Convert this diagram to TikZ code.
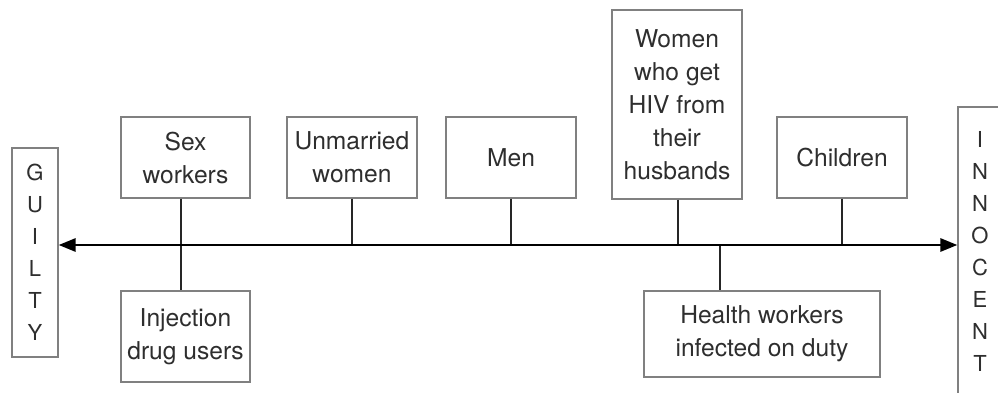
\documentclass[tikz,border=0pt]{standalone}
\usepackage{fontspec}
\setmainfont{TeX Gyre Heros}
\usetikzlibrary{arrows.meta}
\definecolor{boxline}{HTML}{808080}
\definecolor{txt}{HTML}{2E2E2E}
\tikzset{
  catbox/.style={draw=boxline, line width=1.2pt, rectangle, inner sep=0pt,
    align=center, text=txt, font=\fontsize{24.6}{33}\selectfont},
  sidebox/.style={catbox, font=\fontsize{22}{32}\selectfont},
  tick/.style={draw=black!85, line width=1.2pt},
  axisline/.style={draw=black, line width=2.8pt,
    {Triangle[length=17pt,width=13pt]}-{Triangle[length=17pt,width=13pt]}}
}
\begin{document}
\begin{tikzpicture}[x=1pt,y=1pt]
\useasboundingbox (0,0) rectangle (998,392);
\clip (0,0) rectangle (998,392);
% side boxes
\node[sidebox, minimum width=46pt, minimum height=209pt] (guilty) at (35,139.5) {G\\U\\I\\L\\T\\Y};
\node[sidebox, minimum width=44pt, minimum height=288pt] (innocent) at (980,141) {I\\N\\N\\O\\C\\E\\N\\T};
% category boxes
\node[catbox, minimum width=129pt, minimum height=81pt] (sex) at (185.5,234.5) {Sex\\workers};
\node[catbox, minimum width=129pt, minimum height=91pt] (inject) at (185.5,55.5) {Injection\\drug users};
\node[catbox, minimum width=130pt, minimum height=81pt] (unmarried) at (352,234.5) {Unmarried\\women};
\node[catbox, minimum width=130pt, minimum height=81pt] (men) at (511,234.5) {Men};
\node[catbox, minimum width=130pt, minimum height=189pt] (women) at (677,287.5) {Women\\who get\\HIV from\\their\\husbands};
\node[catbox, minimum width=130pt, minimum height=81pt] (children) at (842,234.5) {Children};
\node[catbox, minimum width=236pt, minimum height=86pt] (health) at (762,58) {Health workers\\infected on duty};
% axis points
\coordinate (axis) at (0,147);
\coordinate (tsex) at (181,147);
\coordinate (tunm) at (352,147);
\coordinate (tmen) at (511,147);
\coordinate (twom) at (678,147);
\coordinate (thea) at (720,147);
\coordinate (tchi) at (842,147);
% ticks
\draw[tick] (sex.south -| tsex) -- (inject.north -| tsex);
\draw[tick] (unmarried.south -| tunm) -- (tunm);
\draw[tick] (men.south -| tmen) -- (tmen);
\draw[tick] (women.south -| twom) -- (twom);
\draw[tick] (children.south -| tchi) -- (tchi);
\draw[tick] (thea) -- (health.north -| thea);
% main axis
\draw[axisline] (guilty.east |- axis) -- (innocent.west |- axis);
\end{tikzpicture}
\end{document}
